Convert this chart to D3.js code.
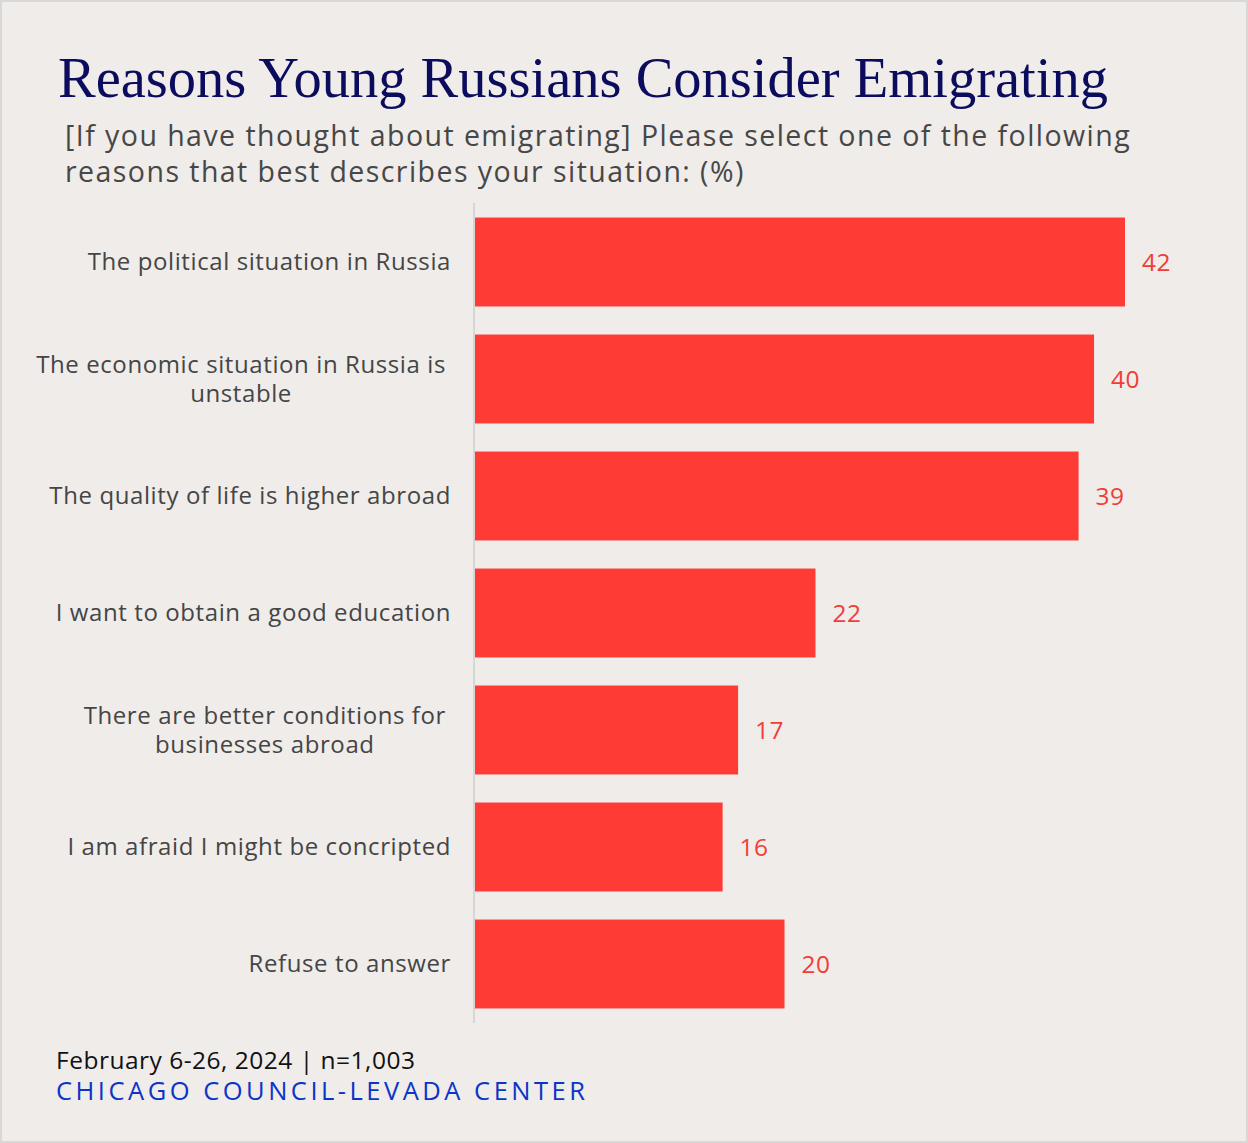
<!DOCTYPE html>
<html>
<head>
<meta charset="utf-8">
<script src="https://cdn.jsdelivr.net/npm/d3@7"></script>
<style>
  html, body { margin: 0; padding: 0; background: #efecea; }
  svg { display: block; }
  text { font-family: "Open Sans", sans-serif; }
</style>
</head>
<body>
<script>
// Survey reasons and shares (%)
const categories = [
  "The political situation in Russia",
  "The economic situation in Russia is unstable",
  "The quality of life is higher abroad",
  "I want to obtain a good education",
  "There are better conditions for businesses abroad",
  "I am afraid I might be concripted",
  "Refuse to answer"
];
// Wrapped lines for the row labels
const labelLines = [
  ["The political situation in Russia"],
  ["The economic situation in Russia is", "unstable"],
  ["The quality of life is higher abroad"],
  ["I want to obtain a good education"],
  ["There are better conditions for", "businesses abroad"],
  ["I am afraid I might be concripted"],
  ["Refuse to answer"]
];
const values = [42, 40, 39, 22, 17, 16, 20];

const titleText = "Reasons Young Russians Consider Emigrating";
const subtitleLines = [
  "[If you have thought about emigrating] Please select one of the following",
  "reasons that best describes your situation: (%)"
];
const noteText = "February 6-26, 2024 | n=1,003";
const sourceText = "CHICAGO COUNCIL-LEVADA CENTER";

const W = 1248, H = 1143;
const svg = d3.select("body").append("svg").attr("width", W).attr("height", H);

// background and frame
svg.append("rect").attr("x", 1).attr("y", 1).attr("width", W - 2).attr("height", H - 2)
  .attr("fill", "#efecea").attr("stroke", "#d8d8d8").attr("stroke-width", 2);

// heading
svg.append("text").attr("x", 58).attr("y", 97)
  .style("font-family", "'Liberation Serif', serif")
  .style("font-size", "56.5px").attr("fill", "#0c0c5e")
  .text(titleText);

svg.append("g").selectAll("text").data(subtitleLines).join("text")
  .attr("x", 65).attr("y", (d, i) => 146 + i * 36)
  .style("font-size", "28.5px").style("letter-spacing", "1.45px").attr("fill", "#474747")
  .text(d => d);

// scales
const x0 = 475;
const x = d3.scaleLinear().domain([0, 42]).range([x0, x0 + 650]);
const y = d3.scaleBand().domain(categories).range([203.5, 1022.5])
  .paddingInner(0.24).paddingOuter(0.12);

// baseline
svg.append("line").attr("x1", x0 - 1).attr("x2", x0 - 1)
  .attr("y1", 203).attr("y2", 1023)
  .attr("stroke", "#d6d6d6").attr("stroke-width", 2);

// bars
svg.append("g").selectAll("rect").data(values).join("rect")
  .attr("x", x(0))
  .attr("y", (d, i) => y(categories[i]))
  .attr("width", d => x(d) - x(0))
  .attr("height", y.bandwidth())
  .attr("fill", "#ff3b36");

// value labels
svg.append("g").selectAll("text").data(values).join("text")
  .attr("x", d => x(d) + 17)
  .attr("y", (d, i) => y(categories[i]) + y.bandwidth() / 2)
  .attr("dy", "0.35em")
  .style("font-size", "24.5px").style("letter-spacing", "0.5px").attr("fill", "#f23d37")
  .text(d => d);

// row labels, multi-line ones centred as a block
const labelFont = "24px", labelSpacing = "0.6px";
const lineH = 29;
const lg = svg.append("g");
labelLines.forEach((lines, i) => {
  const cy = y(categories[i]) + y.bandwidth() / 2;
  const t = lg.append("text")
    .style("font-size", labelFont).style("letter-spacing", labelSpacing)
    .attr("fill", "#454545")
    .attr("text-anchor", lines.length > 1 ? "middle" : "end");
  lines.forEach((ln, j) => {
    t.append("tspan").attr("y", cy + (j - (lines.length - 1) / 2) * lineH).attr("dy", "0.35em").text(ln);
  });
  if (lines.length > 1) {
    // centre all lines on the longest one, which ends at the label edge
    const tmp = lg.append("text").style("font-size", labelFont).style("letter-spacing", labelSpacing).text(lines[0]);
    const w = tmp.node().getComputedTextLength();
    tmp.remove();
    t.selectAll("tspan").attr("x", 446 - w / 2);
  } else {
    t.selectAll("tspan").attr("x", 451);
  }
});

// footer
svg.append("text").attr("x", 56).attr("y", 1069)
  .style("font-size", "24.5px").style("letter-spacing", "0.5px").attr("fill", "#111")
  .text(noteText);
svg.append("text").attr("x", 56).attr("y", 1100)
  .style("font-size", "25.5px").style("letter-spacing", "3.5px").attr("fill", "#0b35c9")
  .text(sourceText);
</script>
</body>
</html>
